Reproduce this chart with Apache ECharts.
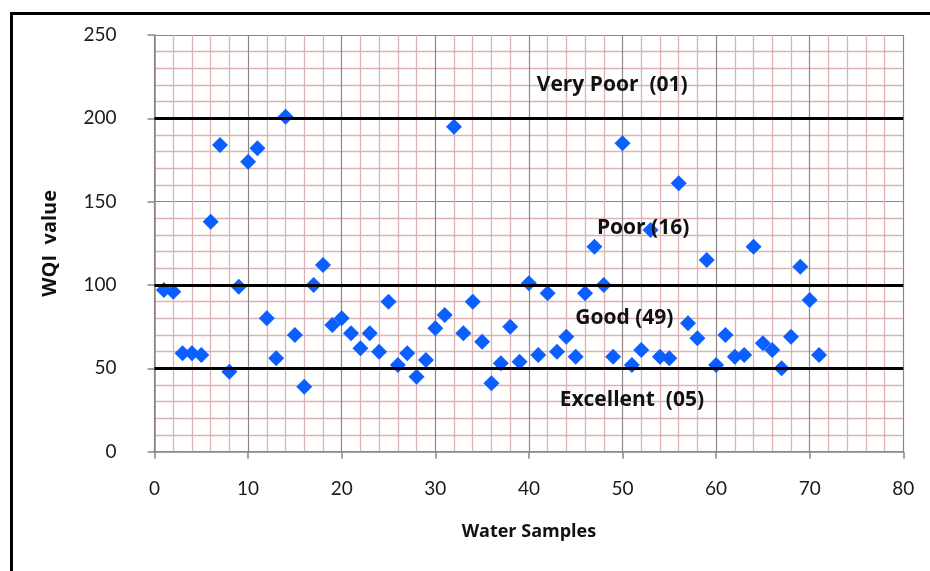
<!DOCTYPE html>
<html>
<head>
<meta charset="utf-8">
<script src="https://cdn.jsdelivr.net/npm/echarts@6/dist/echarts.min.js"></script>
<style>
  html, body { margin: 0; padding: 0; background: #ffffff; }
  #chart { width: 930px; height: 571px; }
</style>
</head>
<body>
<div id="chart"></div>
<script>
// Water sample numbers (x) and WQI values (y)
const samples = [1,2,3,4,5,6,7,8,9,10,11,12,13,14,15,16,17,18,19,20,21,22,23,24,25,26,27,28,29,30,31,32,33,34,35,36,37,38,39,40,41,42,43,44,45,46,47,48,49,50,51,52,53,54,55,56,57,58,59,60,61,62,63,64,65,66,67,68,69,70,71];
const wqi = [97,96,59,59,58,138,184,48,99,174,182,80,56,201,70,39,100,112,76,80,71,62,71,60,90,52,59,45,55,74,82,195,71,90,66,41,53,75,54,101,58,95,60,69,57,95,123,100,57,185,52,61,133,57,56,161,77,68,115,52,70,57,58,123,65,61,50,69,111,91,58];
// Class boundary lines
const thresholds = [50, 100, 200];
// Class annotation texts
const classLabels = ['Very Poor  (01)', 'Poor (16)', 'Good (49)', 'Excellent  (05)'];
// Axis settings
const xMin = 0, xMax = 80, xStep = 10;
const yMin = 0, yMax = 250, yStep = 50;

const points = samples.map((s, i) => [s, wqi[i]]);
const labelAnchors = [[48.9, 220], [52.2, 134.4], [50.2, 80.2], [51.0, 31.2]];

const chart = echarts.init(document.getElementById('chart'), null, { renderer: 'canvas' });
const font = 'Lato, "Open Sans", "DejaVu Sans", sans-serif';
const boldFont = '"Open Sans", Lato, "DejaVu Sans", sans-serif';
const gridMajor = '#8e8585';
const gridMinor = '#dbb3b5';

chart.setOption({
  backgroundColor: '#ffffff',
  animation: false,
  grid: { left: 154.5, top: 35, right: 26.7, bottom: 119.3, containLabel: false },
  xAxis: {
    type: 'value', min: xMin, max: xMax, interval: xStep,
    name: 'Water Samples', nameLocation: 'middle', nameGap: 71,
    nameTextStyle: { fontFamily: boldFont, fontWeight: 'bold', fontSize: 18, color: '#111' },
    axisLine: { show: true, lineStyle: { color: gridMajor, width: 1.5 } },
    axisTick: { show: true, inside: false, length: 7, lineStyle: { color: gridMajor, width: 1.5 } },
    axisLabel: { margin: 28, fontFamily: font, fontSize: 19, color: '#1a1a1a' },
    splitLine: { show: true, lineStyle: { color: gridMajor, width: 1.2 } },
    minorTick: { show: false, splitNumber: 5 },
    minorSplitLine: { show: true, lineStyle: { color: gridMinor, width: 1.3 } }
  },
  yAxis: {
    type: 'value', min: yMin, max: yMax, interval: yStep,
    name: 'WQI  value', nameLocation: 'middle', nameGap: 94, nameRotate: 90,
    nameTextStyle: { fontFamily: boldFont, fontWeight: 'bold', fontSize: 20, color: '#111' },
    axisLine: { show: true, lineStyle: { color: gridMajor, width: 1.5 } },
    axisTick: { show: true, inside: false, length: 7, lineStyle: { color: gridMajor, width: 1.5 } },
    axisLabel: { margin: 38, fontFamily: font, fontSize: 19, color: '#1a1a1a' },
    splitLine: { show: true, lineStyle: { color: gridMajor, width: 1.2 } },
    minorTick: { show: false, splitNumber: 5 },
    minorSplitLine: { show: true, lineStyle: { color: gridMinor, width: 1.3 } }
  },
  graphic: [
    { type: 'line', shape: { x1: 10, y1: 13.5, x2: 930, y2: 13.5 }, style: { stroke: '#000', lineWidth: 3 }, z: 100 },
    { type: 'line', shape: { x1: 11.5, y1: 12, x2: 11.5, y2: 571 }, style: { stroke: '#000', lineWidth: 3 }, z: 100 }
  ],
  series: [{
    type: 'scatter',
    data: points,
    symbol: 'diamond',
    symbolSize: 16,
    itemStyle: { color: '#0b5fff', opacity: 1 },
    z: 3,
    markLine: {
      silent: true, symbol: 'none', animation: false,
      label: { show: false },
      lineStyle: { color: '#000', width: 3, type: 'solid' },
      data: thresholds.map(v => ({ yAxis: v }))
    },
    markPoint: {
      silent: true, symbol: 'rect', symbolSize: 1,
      itemStyle: { color: 'rgba(0,0,0,0)' },
      label: {
        show: true, position: 'inside', fontFamily: boldFont, fontWeight: 'bold',
        fontSize: 21, color: '#111'
      },
      data: classLabels.map((t, i) => ({
        coord: labelAnchors[i], value: t,
        label: { formatter: t }
      }))
    }
  }]
});
</script>
</body>
</html>
